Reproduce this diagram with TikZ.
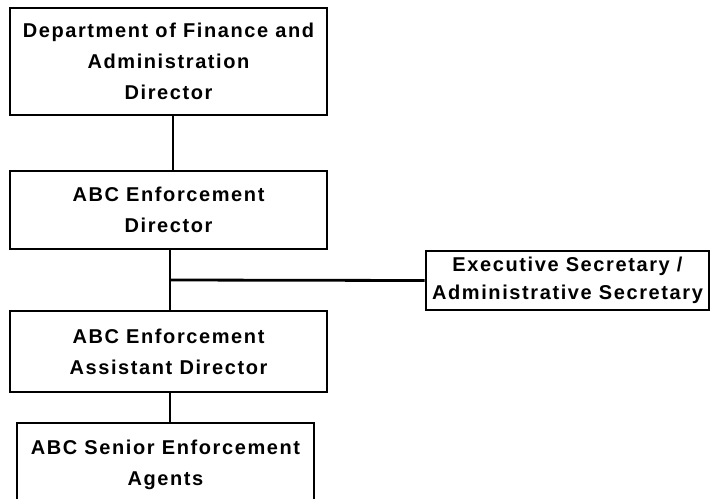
\documentclass[tikz,border=0pt]{standalone}
\usepackage{fontspec}
\setmainfont{Liberation Sans}
\newfontfamily\chartfont[LetterSpace=8]{Liberation Sans}
\tikzset{
  post/.style={draw, line width=2.8pt, align=center, inner sep=0pt,
    minimum width=317pt, font=\chartfont\fontsize{20}{31}\selectfont\bfseries},
  link/.style={line width=2.8pt}
}
\begin{document}
\begin{tikzpicture}[x=1pt, y=-1pt]
    \useasboundingbox (0,0) rectangle (711,498);

    % posts
    \node[post, minimum height=107pt] (finance) at (168.5, 61.5)
      {Department of Finance and\\Administration\\Director};
    \node[post, minimum height=78pt] (director) at (168.5, 210)
      {ABC Enforcement\\Director};
    \node[post, minimum height=81pt] (assistant) at (168.5, 351.5)
      {ABC Enforcement\\Assistant Director};
    \node[post, minimum width=297pt, minimum height=84pt] (agents) at (165.5, 465)
      {ABC Senior Enforcement\\Agents};
    \node[post, minimum width=283pt, minimum height=59pt,
      font=\chartfont\fontsize{20}{28}\selectfont\bfseries] (secretary) at (567.5, 280.5)
      {Executive Secretary /\\Administrative Secretary};

    % reporting lines
    \draw[link] ([xshift=4.5pt]finance.south) -- ([xshift=4.5pt]director.north);
    \draw[link] ([xshift=1.5pt]director.south) -- ([xshift=1.5pt]assistant.north);
    \draw[link] (170, 280) -- (secretary.west);
    \draw[link] ([xshift=1.5pt]assistant.south) -- ([xshift=4.5pt]agents.north);

  \end{tikzpicture}
\end{document}
